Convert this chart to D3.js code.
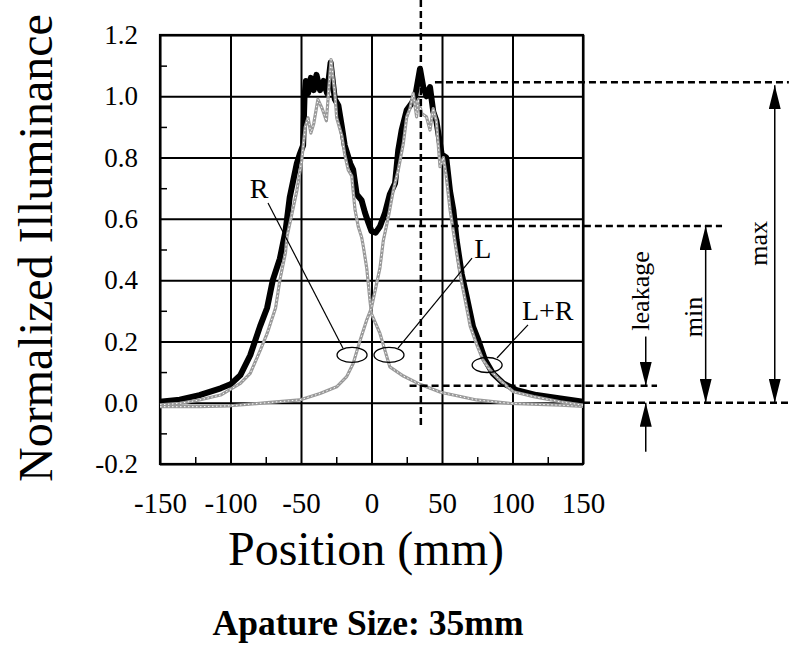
<!DOCTYPE html>
<html>
<head>
<meta charset="utf-8">
<script src="https://cdn.jsdelivr.net/npm/d3@7"></script>
<style>
  body { margin: 0; background: #fff; }
  svg { font-family: "Liberation Serif", "Times New Roman", serif; }
</style>
</head>
<body>
<svg id="chart" width="789" height="649"></svg>
<script>
// tick values
const xTickVals = [-150, -100, -50, 0, 50, 100, 150];
const yTickVals = [-0.2, 0, 0.2, 0.4, 0.6, 0.8, 1.0, 1.2];
const xMinor = [-125, -75, -25, 25, 75, 125];
const yMinor = [-0.1, 0.1, 0.3, 0.5, 0.7, 0.9, 1.1];

// L+R (thick black)
const posLR = [-150, -136, -122, -107, -100, -93, -86, -79, -74, -70, -65, -61, -58, -53, -51, -48.5, -47.5, -46.5, -45, -43, -41, -39, -36.5, -34, -31.5, -29, -26, -23.5, -21, -19, -15, -13, -10.5, -7, -4.6, -2, 0, 3, 6, 9.6, 13, 16.7, 19, 21.4, 25, 28.5, 31, 34.4, 36.7, 39, 41.5, 43.8, 46, 49.8, 53, 55.7, 58, 60.4, 64, 67.5, 72, 75.7, 80.5, 86, 93.5, 103, 117, 134, 150];
const valLR = [0.003, 0.01, 0.025, 0.047, 0.06, 0.09, 0.155, 0.25, 0.31, 0.40, 0.47, 0.56, 0.67, 0.78, 0.81, 0.84, 1.0, 1.05, 1.01, 1.06, 1.02, 1.07, 1.02, 1.05, 1.01, 1.11, 0.99, 0.97, 0.90, 0.84, 0.78, 0.76, 0.68, 0.66, 0.62, 0.585, 0.56, 0.555, 0.575, 0.62, 0.68, 0.716, 0.825, 0.89, 0.955, 0.977, 1.0, 1.09, 1.03, 1.0, 1.03, 0.95, 0.92, 0.81, 0.80, 0.69, 0.63, 0.53, 0.42, 0.346, 0.248, 0.205, 0.14, 0.096, 0.063, 0.041, 0.025, 0.014, 0.003];

// R (left peak, gray)
const posR = [-150, -136, -122, -107, -93, -86, -79, -74, -68, -65, -61, -60, -53, -49.5, -47, -45, -43, -41, -38, -35, -32, -28.7, -26, -24.7, -21, -19, -16.5, -14, -13, -11.7, -9.4, -7, -5.8, -3.4, -1, 0, 6, 13, 22.6, 34.4, 49, 74.6, 98, 134, 150];
const valR = [-0.007, -0.002, 0.009, 0.025, 0.063, 0.096, 0.17, 0.226, 0.31, 0.40, 0.49, 0.54, 0.69, 0.79, 0.90, 0.93, 0.88, 0.91, 0.99, 0.96, 0.92, 1.12, 1.01, 0.93, 0.87, 0.81, 0.76, 0.74, 0.69, 0.63, 0.575, 0.54, 0.51, 0.44, 0.33, 0.29, 0.226, 0.117, 0.087, 0.06, 0.034, 0.009, -0.002, -0.008, -0.012];

// L (right peak, gray)
const posL = [-150, -122, -100, -74, -51, -36.5, -24.7, -17.6, -13, -8, -3.4, 0, 6, 8.4, 12, 15.5, 19, 22.6, 25, 27.3, 29.6, 32, 33.2, 35.6, 39, 41.5, 43.8, 46, 48.6, 51, 53, 55.7, 59, 62.8, 67.5, 70, 74.6, 79, 84, 91, 100.6, 115, 134, 150];
const valL = [-0.013, -0.013, -0.01, 0.0, 0.009, 0.03, 0.052, 0.085, 0.128, 0.205, 0.27, 0.31, 0.44, 0.53, 0.607, 0.694, 0.76, 0.847, 0.933, 0.96, 1.01, 0.933, 0.99, 0.944, 0.933, 0.89, 0.96, 0.92, 0.77, 0.80, 0.74, 0.63, 0.53, 0.42, 0.31, 0.25, 0.19, 0.14, 0.107, 0.074, 0.036, 0.02, 0.003, -0.008];

// annotation levels (data units)
const markPos = 35;
const maxLevel = 1.046, minLevel = 0.577, leakLevel = 0.055;

var svg = d3.select('#chart');
var margin = { top: 35, left: 160 };
var width = 423, height = 429;

var x = d3.scaleLinear().domain([-150, 150]).range([margin.left, margin.left + width]);
var y = d3.scaleLinear().domain([-0.2, 1.2]).range([margin.top + height, margin.top]);

// arrow marker
svg.append('defs').append('marker')
    .attr('id', 'arrow')
    .attr('viewBox', '0 0 24 12')
    .attr('refX', 24).attr('refY', 6)
    .attr('markerWidth', 24).attr('markerHeight', 12)
    .attr('markerUnits', 'userSpaceOnUse')
    .attr('orient', 'auto-start-reverse')
    .append('path').attr('d', 'M0,0 L24,6 L0,12 Z').attr('fill', '#000');

// grid
svg.append('g')
    .attr('transform', 'translate(0,' + (margin.top + height) + ')')
    .call(d3.axisBottom(x).tickValues(xTickVals).tickSize(-height).tickFormat(''))
    .call(g => g.select('.domain').remove())
    .selectAll('line').attr('stroke', '#000').attr('stroke-width', 2);
svg.append('g')
    .attr('transform', 'translate(' + margin.left + ',0)')
    .call(d3.axisLeft(y).tickValues(yTickVals).tickSize(-width).tickFormat(''))
    .call(g => g.select('.domain').remove())
    .selectAll('line').attr('stroke', '#000').attr('stroke-width', 2);

// minor ticks pointing inward
svg.append('g')
    .attr('transform', 'translate(0,' + (margin.top + height) + ')')
    .call(d3.axisBottom(x).tickValues(xMinor).tickSize(-7).tickFormat(''))
    .call(g => g.select('.domain').remove())
    .selectAll('line').attr('stroke', '#000').attr('stroke-width', 1.5);
svg.append('g')
    .attr('transform', 'translate(' + margin.left + ',0)')
    .call(d3.axisLeft(y).tickValues(yMinor).tickSize(-7).tickFormat(''))
    .call(g => g.select('.domain').remove())
    .selectAll('line').attr('stroke', '#000').attr('stroke-width', 1.5);

svg.append('rect')
    .attr('x', margin.left).attr('y', margin.top)
    .attr('width', width).attr('height', height)
    .attr('fill', 'none').attr('stroke', '#000').attr('stroke-width', 2.2);

// tick labels
var hy = d => (d < 0 ? '-' : '') + Math.abs(d);
svg.append('g')
    .attr('transform', 'translate(0,' + (margin.top + height) + ')')
    .call(d3.axisBottom(x).tickValues(xTickVals).tickSize(0).tickPadding(28).tickFormat(hy))
    .call(g => g.select('.domain').remove())
    .selectAll('text').attr('font-size', 29).attr('font-family', '"Liberation Serif", serif').attr('fill', '#000');
svg.append('g')
    .attr('transform', 'translate(' + margin.left + ',0)')
    .call(d3.axisLeft(y).tickValues(yTickVals).tickSize(0).tickPadding(22).tickFormat(d => (d < 0 ? '-' : '') + Math.abs(d).toFixed(1)))
    .call(g => g.select('.domain').remove())
    .selectAll('text').attr('font-size', 27).attr('font-family', '"Liberation Serif", serif').attr('fill', '#000');

// axis titles
svg.append('text')
    .attr('x', 366).attr('y', 565)
    .attr('text-anchor', 'middle').attr('font-size', 48)
    .text('Position (mm)');
svg.append('text')
    .attr('transform', 'translate(52,248) rotate(-90)')
    .attr('text-anchor', 'middle').attr('font-size', 48)
    .text('Normalized Illuminance');
svg.append('text')
    .attr('x', 368).attr('y', 635)
    .attr('text-anchor', 'middle').attr('font-size', 35.5).attr('font-weight', 'bold')
    .text('Apature Size: 35mm');

// curves
var line = d3.line().x(d => x(d[0])).y(d => y(d[1]));
var lrData = posLR.map((p, i) => [p, valLR[i]]);
var rData = posR.map((p, i) => [p, valR[i]]);
var lData = posL.map((p, i) => [p, valL[i]]);

svg.append('path').datum(lrData).attr('d', line)
    .attr('fill', 'none').attr('stroke', '#000').attr('stroke-width', 6).attr('stroke-linejoin', 'round');

[rData, lData].forEach(function(dd) {
    svg.append('path').datum(dd).attr('d', line)
        .attr('fill', 'none').attr('stroke', '#9a9a9a').attr('stroke-width', 3.2).attr('stroke-linejoin', 'round');
    svg.append('path').datum(dd).attr('d', line)
        .attr('fill', 'none').attr('stroke', '#fff').attr('stroke-width', 1).attr('stroke-dasharray', '1.5,2.5');
});

// dashed reference lines
function dashed(x1, y1, x2, y2) {
    svg.append('line')
        .attr('x1', x(x1)).attr('y1', y(y1)).attr('x2', x(x2)).attr('y2', y(y2))
        .attr('stroke', '#000').attr('stroke-width', 2.5).attr('stroke-dasharray', '7,4');
}
dashed(markPos, 1.314, markPos, -0.073);
dashed(45, maxLevel, 296, maxLevel);
dashed(18, minLevel, 248.6, minLevel);
dashed(27, leakLevel, 202.5, leakLevel);
dashed(150, 0, 296, 0);

// arrows
function arrow(xv, y1, y2, both) {
    var a = svg.append('line')
        .attr('x1', x(xv)).attr('y1', y(y1)).attr('x2', x(xv)).attr('y2', y(y2))
        .attr('stroke', '#000').attr('stroke-width', 1.5)
        .attr('marker-end', 'url(#arrow)');
    if (both) a.attr('marker-start', 'url(#arrow)');
}
arrow(286, maxLevel - 0.01, 0, true);
arrow(237, minLevel, 0, true);
arrow(194.5, 0.216, leakLevel, false);
arrow(194.5, -0.16, 0, false);

// rotated labels
function vlabel(xpx, yv, txt) {
    svg.append('text')
        .attr('transform', 'translate(' + xpx + ',' + y(yv) + ') rotate(-90)')
        .attr('text-anchor', 'middle').attr('font-size', 26)
        .text(txt);
}
vlabel(x(194.5) + 3, 0.3646, 'leakage');
vlabel(x(237) - 4, 0.28, 'min');
vlabel(x(286) - 8, 0.52, 'max');

// curve labels with leaders and loops
var notes = [
    { name: 'R', tx: -79.8, ty: 0.668, lx1: -73.4, ly1: 0.652, lx2: -20.2, ly2: 0.178, ex: -13.8, ey: 0.156 },
    { name: 'L', tx: 79, ty: 0.472, lx1: 71.3, ly1: 0.472, lx2: 18.8, ly2: 0.178, ex: 12.4, ey: 0.156 },
    { name: 'L+R', tx: 125, ty: 0.27, lx1: 111, ly1: 0.254, lx2: 89, ly2: 0.146, ex: 82, ey: 0.123 }
];
notes.forEach(function(n) {
    svg.append('text')
        .attr('x', x(n.tx)).attr('y', y(n.ty))
        .attr('text-anchor', 'middle').attr('font-size', 28)
        .text(n.name);
    svg.append('line')
        .attr('x1', x(n.lx1)).attr('y1', y(n.ly1)).attr('x2', x(n.lx2)).attr('y2', y(n.ly2))
        .attr('stroke', '#000').attr('stroke-width', 1.2);
    svg.append('ellipse')
        .attr('cx', x(n.ex)).attr('cy', y(n.ey)).attr('rx', 15).attr('ry', 7.5)
        .attr('fill', 'none').attr('stroke', '#000').attr('stroke-width', 1.3);
});
</script>
</body>
</html>
